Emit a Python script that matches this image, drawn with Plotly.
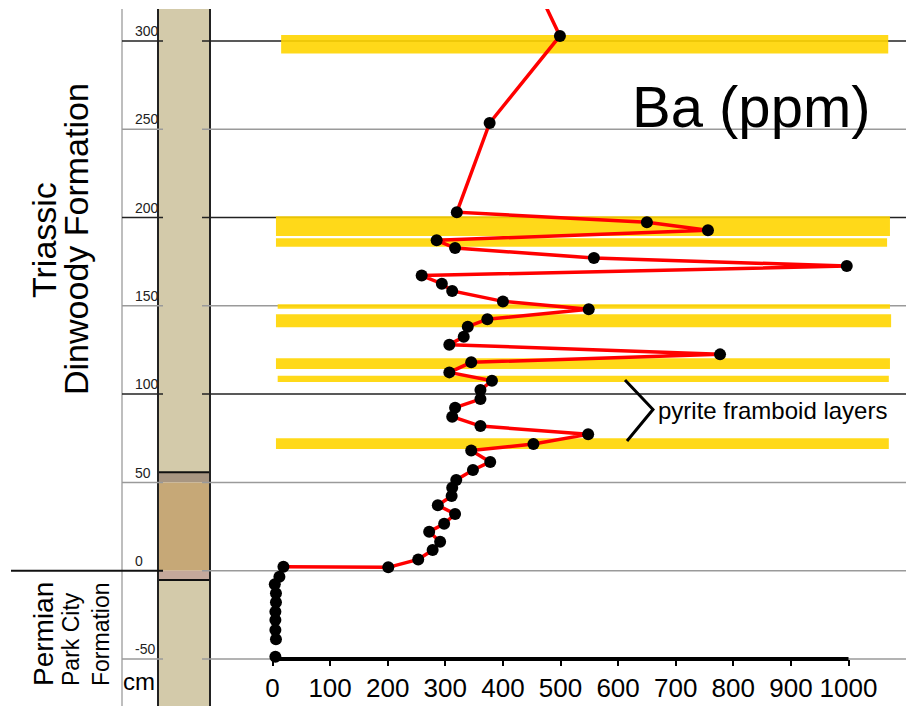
import plotly.graph_objects as go

# ---------------------------------------------------------------------------
# Data: Ba (ppm) against stratigraphic height (cm) above the Permian/Triassic contact
# ---------------------------------------------------------------------------
triassic_height = [350, 302.8, 253.5, 203.0, 197.3, 192.8, 187.1, 182.7, 177.1, 172.5,
                   167.1, 162.5, 158.4, 152.5, 148.0, 142.4, 138.2, 132.5, 128.0, 122.5,
                   118.0, 112.3, 107.6, 102.3, 97.2, 92.3, 87.2, 81.9, 77.2, 71.7,
                   68.0, 61.6, 57.0, 51.4, 47.0, 42.3, 37.0, 32.1, 26.6, 22.1,
                   16.4, 11.7, 6.4, 1.9, 2.3]
triassic_ba = [430, 499, 377, 320, 650, 756, 285, 317, 558, 997,
               259, 294, 312, 400, 549, 373, 339, 332, 307, 777,
               345, 307, 381, 361, 361, 317, 312, 361, 548, 453,
               345, 378, 348, 319, 312, 311, 287, 317, 298, 272,
               291, 278, 253, 201, 19]

permian_height = [-3.4, -7.7, -12.8, -17.9, -23.2, -27.9, -33.6, -38.8, -48.7]
permian_ba = [12, 4, 6, 6, 5, 5, 5, 6, 5]

# pyrite framboid layers: top / base height (cm) and Ba extent of the bar
layer_top = [303.3, 200.7, 188.3, 150.9, 145.2, 120.3, 110.4, 75.0]
layer_base = [292.8, 189.5, 183.5, 148.3, 137.8, 114.2, 106.9, 68.9]
layer_start = [15, 6, 6, 9, 6, 6, 9, 6]
layer_end = [1069, 1072, 1067, 1072, 1074, 1072, 1070, 1070]

# lithological column units (top, base in cm) and their fills
unit_top = [318.1, 55.7, 50.0, 0.0, -5.3]
unit_base = [55.7, 50.0, 0.0, -5.3, -76.6]
unit_fill = ["#d3caaa", "#a89682", "#c6a877", "#c4a89b", "#d3caaa"]
unit_edges = [55.7, -5.3]

x_ticks = [0, 100, 200, 300, 400, 500, 600, 700, 800, 900, 1000]
y_ticks = [-50, 0, 50, 100, 150, 200, 250, 300]
y_major = [100, 200, 300]

# ---------------------------------------------------------------------------
# Page geometry (pixels) and conversions to axis units
# ---------------------------------------------------------------------------
W, H = 906, 706
TOP = 9
X0_PX, X_PX_PER = 272.5, 0.576      # px of Ba = 0, px per ppm
Y0_PX, Y_PX_PER = 570.7, 1.766      # px of height = 0, px per cm


def gx(px):
    return (px - X0_PX) / X_PX_PER


def gy(py):
    return (Y0_PX - py) / Y_PX_PER


def px_paper(px):
    return px / W


COL_L, COL_R = 158, 210
AXIS_PX = 122

fig = go.Figure()

fig.add_trace(go.Scatter(
    x=triassic_ba, y=triassic_height, mode="lines+markers",
    line=dict(color="#ff0000", width=3.5),
    marker=dict(color="black", size=12),
    hoverinfo="x+y", showlegend=False,
))
fig.add_trace(go.Scatter(
    x=permian_ba, y=permian_height, mode="markers",
    marker=dict(color="black", size=12),
    hoverinfo="x+y", showlegend=False,
))

shapes = []

# lithological column
for top, base, fill in zip(unit_top, unit_base, unit_fill):
    shapes.append(dict(type="rect", layer="below", xref="paper", yref="y",
                       x0=px_paper(COL_L), x1=px_paper(COL_R), y0=base, y1=top,
                       fillcolor=fill, line=dict(width=0)))
for edge in unit_edges:
    shapes.append(dict(type="line", layer="below", xref="paper", yref="y",
                       x0=px_paper(COL_L), x1=px_paper(COL_R), y0=edge, y1=edge,
                       line=dict(color="#111", width=2)))
for cx in (COL_L, COL_R):
    shapes.append(dict(type="line", layer="below", xref="paper", yref="y",
                       x0=px_paper(cx), x1=px_paper(cx), y0=gy(H), y1=gy(TOP),
                       line=dict(color="#222", width=2)))

# height axis line
shapes.append(dict(type="line", layer="below", xref="paper", yref="y",
                   x0=px_paper(AXIS_PX), x1=px_paper(AXIS_PX), y0=gy(H), y1=gy(TOP),
                   line=dict(color="#a8a8a8", width=1.5)))

# horizontal height lines, interrupted by the column
for h in y_ticks:
    col = "#222" if h in y_major else "#9a9a9a"
    left_start = 11 if h == 0 else AXIS_PX
    left_col = "#111" if h == 0 else col
    shapes.append(dict(type="line", layer="below", xref="paper", yref="y",
                       x0=px_paper(left_start), x1=px_paper(163), y0=h, y1=h,
                       line=dict(color=left_col, width=2 if h == 0 else 1.5)))
    shapes.append(dict(type="line", layer="below", xref="paper", yref="y",
                       x0=px_paper(202), x1=1, y0=h, y1=h,
                       line=dict(color=col, width=1.5)))

# pyrite framboid layers
for top, base, x0, x1 in zip(layer_top, layer_base, layer_start, layer_end):
    shapes.append(dict(type="rect", layer="below", xref="x", yref="y",
                       x0=x0, x1=x1, y0=base, y1=top,
                       fillcolor="rgba(255,213,0,0.9)", line=dict(width=0)))

# Ba axis baseline
shapes.append(dict(type="line", layer="below", xref="x", yref="y",
                   x0=x_ticks[0], x1=x_ticks[-1], y0=-50, y1=-50,
                   line=dict(color="black", width=4)))

# bracket for the framboid layers label
shapes.append(dict(type="path", layer="above", xref="x", yref="y",
                   path="M {:.2f},{:.2f} L {:.2f},{:.2f} L {:.2f},{:.2f}".format(
                       gx(625), gy(380), gx(653), gy(409.5), gx(627), gy(441)),
                   line=dict(color="black", width=3)))

FONT = "Liberation Sans, Arial, sans-serif"
annotations = [
    dict(text="Ba (ppm)", x=gx(751), y=gy(106), xref="x", yref="y",
         showarrow=False, xanchor="center", yanchor="middle",
         font=dict(family=FONT, size=58, color="black")),
    dict(text="pyrite framboid layers", x=gx(656), y=gy(410), xref="x", yref="y",
         showarrow=False, xanchor="left", yanchor="middle",
         font=dict(family=FONT, size=24, color="black")),
    dict(text="Triassic", x=gx(44), y=gy(240), xref="x", yref="y",
         showarrow=False, textangle=-90, xanchor="center", yanchor="middle",
         font=dict(family=FONT, size=34, color="black")),
    dict(text="Dinwoody Formation", x=gx(76), y=gy(239), xref="x", yref="y",
         showarrow=False, textangle=-90, xanchor="center", yanchor="middle",
         font=dict(family=FONT, size=34, color="black")),
    dict(text="Permian", x=gx(43), y=gy(688), xref="x", yref="y",
         showarrow=False, textangle=-90, xanchor="center", yanchor="bottom",
         font=dict(family=FONT, size=28, color="black")),
    dict(text="Park City", x=gx(71), y=gy(688), xref="x", yref="y",
         showarrow=False, textangle=-90, xanchor="center", yanchor="bottom",
         font=dict(family=FONT, size=23, color="black")),
    dict(text="Formation", x=gx(101), y=gy(688), xref="x", yref="y",
         showarrow=False, textangle=-90, xanchor="center", yanchor="bottom",
         font=dict(family=FONT, size=23, color="black")),
    dict(text="cm", x=gx(139), y=gy(681), xref="x", yref="y",
         showarrow=False, xanchor="center", yanchor="middle",
         font=dict(family=FONT, size=24, color="black")),
]

fig.update_layout(
    width=W, height=H,
    margin=dict(l=0, r=0, t=TOP, b=0, pad=0),
    paper_bgcolor="white", plot_bgcolor="white",
    showlegend=False,
    shapes=shapes,
    annotations=annotations,
    xaxis=dict(
        range=[gx(0), gx(W)], anchor="free", position=(H - 659) / (H - TOP),
        tickmode="array", tickvals=x_ticks, ticktext=[str(v) for v in x_ticks],
        ticks="outside", ticklen=6, tickwidth=1.5, tickcolor="black",
        showgrid=False, zeroline=False, showline=False, automargin=False,
        tickfont=dict(family="Liberation Sans Narrow, Liberation Sans, Arial", size=26, color="black"),
    ),
    yaxis=dict(
        range=[gy(H), gy(TOP)], anchor="free", position=AXIS_PX / W, side="left",
        tickmode="array", tickvals=y_ticks, ticktext=[str(v) for v in y_ticks],
        ticks="", ticklabelposition="inside top", ticklabelstandoff=9,
        showgrid=False, zeroline=False, showline=False, automargin=False,
        tickfont=dict(family=FONT, size=14, color="#222"),
    ),
)

fig.write_html("out.html")
